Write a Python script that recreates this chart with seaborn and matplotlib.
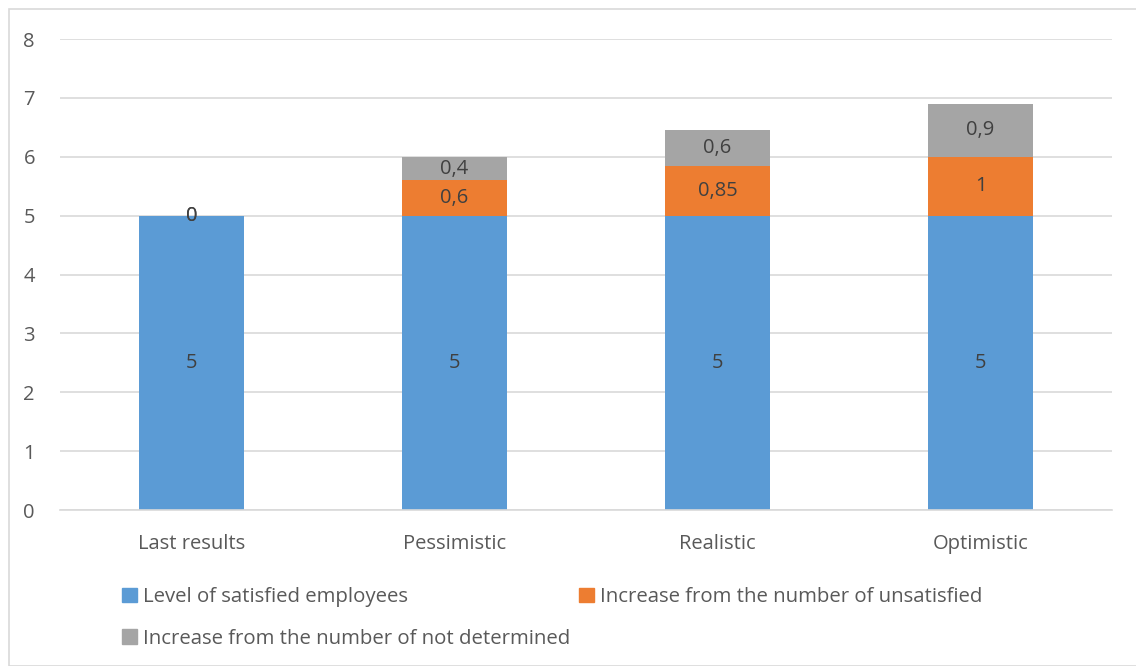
import matplotlib
matplotlib.use("Agg")
import matplotlib.pyplot as plt
from matplotlib.patches import Rectangle
import seaborn as sns
import numpy as np

# 데이터
categories = ["Last results", "Pessimistic", "Realistic", "Optimistic"]
satisfied = [5, 5, 5, 5]
unsatisfied = [0, 0.6, 0.85, 1]
not_determined = [0, 0.4, 0.6, 0.9]
series_names = ["Level of satisfied employees",
                "Increase from the number of unsatisfied",
                "Increase from the number of not determined"]
colors = ["#5B9BD5", "#ED7D31", "#A5A5A5"]

sns.set_style("white")
plt.rcParams["font.family"] = ["Open Sans", "DejaVu Sans"]
text_color = "#595959"

fig = plt.figure(figsize=(11.36, 6.66), dpi=100)
ax = fig.add_axes([0.0528, 0.2342, 0.9262, 0.7072])

def fmt(v):
    return ("%g" % v).replace(".", ",")

bottom = np.zeros(len(categories))
for vals, name, col in zip([satisfied, unsatisfied, not_determined], series_names, colors):
    sns.barplot(x=categories, y=vals, bottom=bottom, color=col, width=0.4,
                ax=ax, label=name, saturation=1, legend=False, linewidth=0)
    bars = ax.containers[-1]
    ax.bar_label(bars, labels=[fmt(v) for v in vals], label_type="center",
                 fontsize=14.5, color="#404040")
    bottom = bottom + np.array(vals)

ax.set_ylim(0, 8)
ax.set_xlim(-0.5, 3.5)
ax.set_yticks(range(0, 9))
ax.yaxis.grid(True, color="#D9D9D9", linewidth=1.2)
ax.set_axisbelow(True)
for s in ["top", "right", "left"]:
    ax.spines[s].set_visible(False)
ax.spines["bottom"].set_color("#D9D9D9")
ax.spines["bottom"].set_linewidth(1.2)
ax.tick_params(axis="both", length=0, labelsize=14.5, labelcolor=text_color)
ax.tick_params(axis="y", pad=18)
ax.tick_params(axis="x", pad=17)
ax.set_xlabel("")
ax.set_ylabel("")

# 범례 (행 순서 맞추기 위해 열 순서로 배치)
handles = [Rectangle((0, 0), 1, 1, color=c) for c in colors]
order = [0, 2, 1]
leg = fig.legend([handles[i] for i in order], [series_names[i] for i in order],
                 ncol=2, loc="upper left", bbox_to_anchor=(0.091, 0.146),
                 frameon=False, fontsize=14.7, handlelength=0.75, handleheight=0.75,
                 handletextpad=0.3, columnspacing=0.4, labelspacing=1.05)
for t in leg.get_texts():
    t.set_color(text_color)

# 차트 테두리
fig.patches.append(Rectangle((9 / 1136, 0), 1.2, 1 - 9 / 666, transform=fig.transFigure,
                             fill=False, edgecolor="#D9D9D9", linewidth=1.2))

fig.savefig("out.png", dpi=100)
